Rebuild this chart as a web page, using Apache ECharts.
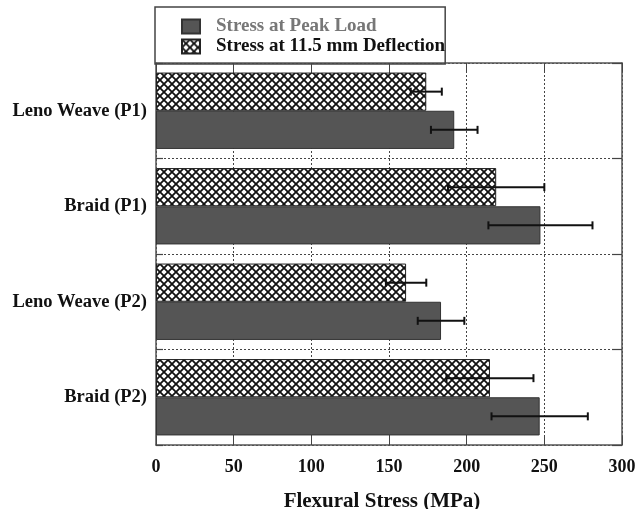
<!DOCTYPE html>
<html>
<head>
<meta charset="utf-8">
<script src="https://cdn.jsdelivr.net/npm/echarts@6/dist/echarts.min.js"></script>
<style>
  html, body { margin: 0; padding: 0; background: #fff; }
  #chart { width: 637px; height: 509px; }
</style>
</head>
<body>
<div id="chart"></div>
<script>
// categories, top to bottom
const categories = ['Leno Weave (P1)', 'Braid (P1)', 'Leno Weave (P2)', 'Braid (P2)'];
// stress at peak load (MPa) and its error
const peakLoad = [192, 247.5, 183.5, 247];
const peakErr = [15, 33.5, 15, 31];
// stress at 11.5 mm deflection (MPa) and its error
const deflection = [174, 219, 161, 215];
const deflErr = [10, 31, 13, 28];
const xTicks = [0, 50, 100, 150, 200, 250, 300];

const serif = 'Liberation Serif';

// cross hatch pattern
function makeHatch() {
  const s = 8;
  const c = document.createElement('canvas');
  c.width = s; c.height = s;
  const ctx = c.getContext('2d');
  ctx.fillStyle = '#fff';
  ctx.fillRect(0, 0, s, s);
  ctx.strokeStyle = '#111';
  ctx.lineWidth = 1.8;
  ctx.beginPath();
  ctx.moveTo(-1, -1); ctx.lineTo(s + 1, s + 1);
  ctx.moveTo(s + 1, -1); ctx.lineTo(-1, s + 1);
  ctx.stroke();
  return c;
}
const hatch = makeHatch();

const chart = echarts.init(document.getElementById('chart'));

// error bars drawn on top of the bars; offset = position inside the band
function errorSeries(name, vals, errs, offset) {
  return {
    type: 'custom',
    name: name + ' err',
    z: 10,
    silent: true,
    xAxisIndex: 0,
    yAxisIndex: 0,
    data: vals.map((v, i) => [v - errs[i], v + errs[i], i]),
    renderItem: function (params, api) {
      const lo = api.coord([api.value(0), api.value(2)]);
      const hi = api.coord([api.value(1), api.value(2)]);
      const band = api.size([0, 1])[1];
      const y = lo[1] + band * offset;
      const h = 4;
      const st = { stroke: '#111', lineWidth: 2 };
      return {
        type: 'group',
        children: [
          { type: 'line', shape: { x1: lo[0], y1: y, x2: hi[0], y2: y }, style: st },
          { type: 'line', shape: { x1: lo[0], y1: y - h, x2: lo[0], y2: y + h }, style: st },
          { type: 'line', shape: { x1: hi[0], y1: y - h, x2: hi[0], y2: y + h }, style: st }
        ]
      };
    }
  };
}

const frame = { show: true, onZero: false, lineStyle: { color: '#555', width: 1.5 } };

const option = {
  animation: false,
  backgroundColor: '#fff',
  textStyle: { fontFamily: serif },
  legend: {
    orient: 'vertical',
    left: 155,
    top: 7,
    padding: [10, 0, 8, 26],
    itemGap: 1,
    itemWidth: 18,
    itemHeight: 14,
    borderColor: '#444',
    borderWidth: 1.5,
    icon: 'rect',
    textStyle: { fontFamily: serif, fontWeight: 'bold', fontSize: 19, lineHeight: 17, color: '#111', padding: [0, 0, 0, 11] },
    data: [
      { name: 'Stress at Peak Load', textStyle: { color: '#777' } },
      { name: 'Stress at 11.5 mm Deflection' }
    ]
  },
  grid: { left: 156, right: 15, top: 63, bottom: 64, outerBoundsMode: 'none' },
  xAxis: [
    {
      type: 'value',
      min: 0, max: 300, interval: 50,
      position: 'bottom',
      name: 'Flexural Stress (MPa)',
      nameLocation: 'middle',
      nameGap: 46,
      nameTextStyle: { fontFamily: serif, fontWeight: 'bold', fontSize: 21, color: '#111', padding: [0, 14, 0, 0] },
      axisLine: frame,
      axisTick: { show: true, inside: true, length: 9, lineStyle: { color: '#444', width: 1 } },
      axisLabel: {
        fontFamily: serif, fontWeight: 'bold', fontSize: 18, color: '#111', margin: 13,
        formatter: v => xTicks.includes(v) ? String(v) : ''
      },
      splitLine: { show: true, lineStyle: { color: '#444', type: [2, 2], width: 1 } }
    },
    {
      type: 'value',
      min: 0, max: 300, interval: 50,
      position: 'top',
      axisLine: frame,
      axisTick: { show: true, inside: true, length: 9, lineStyle: { color: '#444', width: 1 } },
      axisLabel: { show: false },
      splitLine: { show: false }
    }
  ],
  yAxis: [
    {
      type: 'category',
      inverse: true,
      data: categories,
      position: 'left',
      axisLine: frame,
      axisTick: { show: true, inside: true, length: 7, lineStyle: { color: '#444', width: 1.2 } },
      axisLabel: { fontFamily: serif, fontWeight: 'bold', fontSize: 18.5, color: '#111', margin: 9 },
      splitLine: { show: true, lineStyle: { color: '#444', type: [2, 2], width: 1 } }
    },
    {
      type: 'category',
      inverse: true,
      data: categories,
      position: 'right',
      axisLine: frame,
      axisTick: { show: true, inside: true, length: 10, lineStyle: { color: '#444', width: 1.2 } },
      axisLabel: { show: false },
      splitLine: { show: false }
    }
  ],
  series: [
    {
      name: 'Stress at 11.5 mm Deflection',
      type: 'bar',
      data: deflection,
      barGap: '0%',
      barCategoryGap: '20%',
      itemStyle: { color: { image: hatch, repeat: 'repeat' }, borderColor: '#222', borderWidth: 1 }
    },
    {
      name: 'Stress at Peak Load',
      type: 'bar',
      data: peakLoad,
      barGap: '0%',
      barCategoryGap: '20%',
      itemStyle: { color: '#555555', borderColor: '#333', borderWidth: 1 }
    },
    errorSeries('Stress at 11.5 mm Deflection', deflection, deflErr, -0.2),
    errorSeries('Stress at Peak Load', peakLoad, peakErr, 0.2)
  ]
};

chart.setOption(option);
</script>
</body>
</html>
